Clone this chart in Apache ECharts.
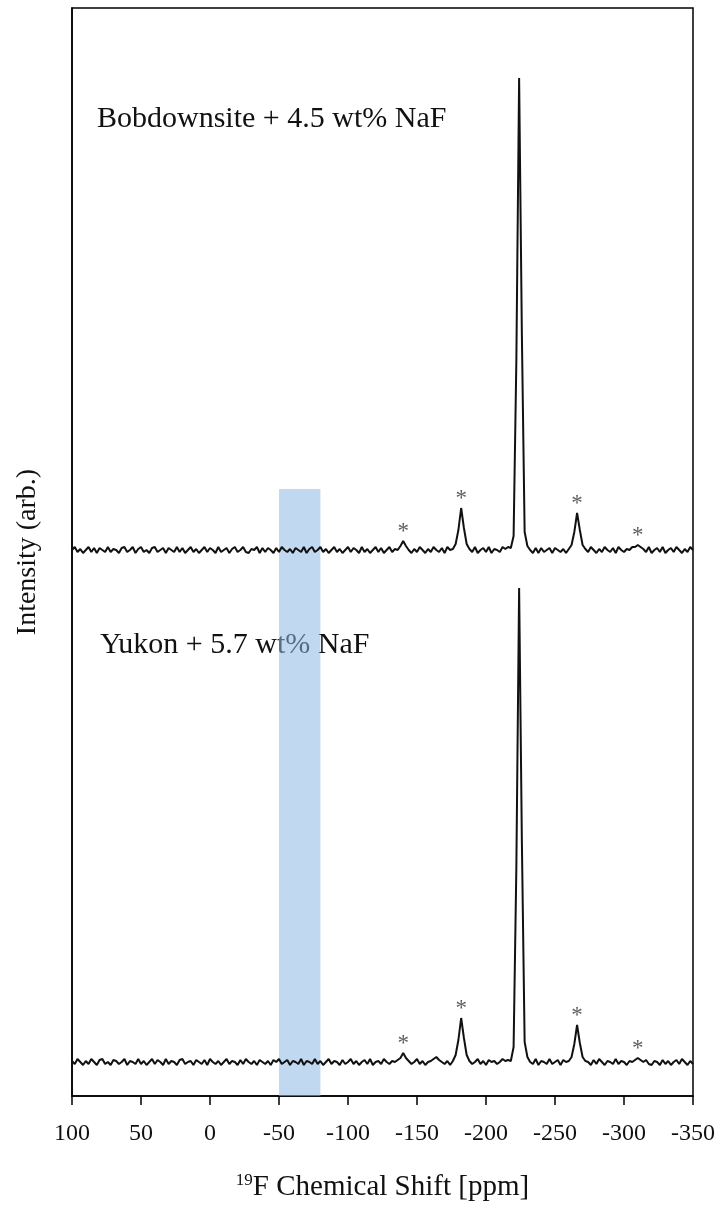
<!DOCTYPE html>
<html>
<head>
<meta charset="utf-8">
<script src="https://cdn.jsdelivr.net/npm/echarts@6/dist/echarts.min.js"></script>
<style>html,body{margin:0;padding:0;background:#fff;}#c{width:720px;height:1212px;}</style>
</head>
<body>
<div id="c"></div>
<script>
// Chemical shift sampling grid (ppm): 100 down to -350, every 2 ppm
const shiftStart = 100, shiftEnd = -350, shiftStep = 2;
const shifts = [];
for (let s = shiftStart; s >= shiftEnd; s -= shiftStep) shifts.push(s);

// Intensities (arb.), relative to each trace's baseline
const bobIntensity = [
  0,3,-2,1,-3,0,3,-2,2,-3,2,0,-2,3,-2,1,0,-3,2,3,
  -2,0,3,-3,1,3,-2,0,-3,2,3,-2,0,2,-3,2,0,-2,3,-2,
  2,-3,0,3,-2,1,-3,0,3,-2,2,0,-3,3,-2,0,2,-3,1,3,
  -2,0,3,-2,-3,1,0,3,-3,2,-2,2,0,-3,2,-2,3,0,-2,1,
  -3,2,0,-2,3,-3,1,3,-2,0,3,-2,1,-3,0,3,-2,1,-3,0,
  3,-2,2,0,-3,3,-2,1,-3,0,3,-2,2,-3,0,3,-2,1,0,4,
  9,4,0,-3,1,-2,3,0,-3,1,-2,3,0,-2,2,-3,3,0,1,6,
  20,42,22,6,1,-2,3,-3,0,2,-2,3,-3,1,0,-2,3,1,3,2,
  14,190,472,215,18,4,0,-3,2,-3,2,-2,0,2,-3,2,0,-2,1,-3,
  1,5,18,37,20,5,1,-2,3,0,-3,1,-2,3,0,-2,2,-3,3,0,
  -2,1,0,3,3,5,3,1,-2,3,-3,0,2,-2,3,-3,0,2,-2,3,
  0,-3,1,-2,3,0
];
const yukonIntensity = [
  1,-2,3,0,-3,1,-2,3,0,-3,2,3,-2,0,-3,2,1,-2,0,3,
  -3,1,0,-2,3,-2,1,-3,0,3,-2,2,0,-3,3,-2,1,0,-3,2,
  3,-2,0,1,-3,2,0,-2,2,-3,3,0,-2,1,-3,0,3,-2,1,0,
  -3,2,-2,3,0,-2,1,-3,2,0,-2,1,-3,2,0,3,-2,0,2,-3,
  1,0,-2,3,-3,1,0,-2,3,-2,1,-3,0,3,-2,1,0,-3,2,-2,
  0,3,-2,1,-3,0,2,-2,3,-3,0,1,-2,3,0,-2,1,0,2,4,
  9,4,1,-2,0,3,-2,1,-3,0,1,3,5,2,0,-2,1,-3,1,7,
  22,44,24,7,1,-2,0,3,-2,1,-3,2,0,1,-2,0,3,1,2,1,
  15,195,474,220,20,5,0,-2,3,-3,1,0,-2,3,-2,0,2,-3,2,0,
  1,5,18,37,19,5,1,0,-3,2,-2,3,0,-3,1,0,-2,3,-2,1,
  0,-3,1,0,2,4,2,0,2,-2,-3,1,0,-3,2,-2,1,-3,0,2,
  -2,3,0,-3,1,-2
];
// Spinning sidebands marked with asterisks (ppm) and their heights
const sidebandShifts = [-140, -182, -266, -310];
const bobSidebandHeights = [9, 42, 37, 5];
const yukonSidebandHeights = [9, 44, 37, 4];
// Highlighted region (ppm)
const bandRange = [-50, -80];
const labels = ['Bobdownsite + 4.5 wt% NaF', 'Yukon + 5.7 wt% NaF'];

// layout (vertical offsets of each stacked trace, in axis units)
const bobOffset = 546, yukonOffset = 34, bandTop = 607, yMax = 1088;

const serif = 'Liberation Serif, Times New Roman, serif';
const pair = (arr, off) => shifts.map((s, i) => [s, arr[i] + off]);
const starData = (h, off) => sidebandShifts.map((s, i) => [s, h[i] + off]);
const starLabel = { show: true, position: 'top', distance: -2, formatter: '*', fontFamily: serif, fontSize: 23, color: '#333' };

const chart = echarts.init(document.getElementById('c'));
chart.setOption({
  backgroundColor: '#fff',
  animation: false,
  grid: { left: 72, right: 27, top: 8, bottom: 116, show: true, borderColor: '#000', borderWidth: 1.5, backgroundColor: 'transparent' },
  xAxis: {
    type: 'value', min: shiftEnd, max: shiftStart, interval: 50, inverse: true,
    axisLine: { show: true, onZero: false, lineStyle: { color: '#000', width: 1.5 } },
    axisTick: { show: true, inside: false, length: 9, lineStyle: { color: '#000', width: 1.5 } },
    axisLabel: { color: '#111', fontFamily: serif, fontSize: 24, margin: 26, formatter: v => String(v) },
    splitLine: { show: false },
    name: '{sup|19}{main|F Chemical Shift [ppm]}',
    nameLocation: 'middle', nameGap: 76,
    nameTextStyle: {
      rich: {
        sup: { fontFamily: serif, fontSize: 17, color: '#111', padding: [0, 0, 14, 0] },
        main: { fontFamily: serif, fontSize: 29, color: '#111' }
      }
    }
  },
  yAxis: {
    type: 'value', min: 0, max: yMax,
    axisLine: { show: true, onZero: false, lineStyle: { color: '#000', width: 1.5 } },
    axisTick: { show: false }, axisLabel: { show: false }, splitLine: { show: false },
    name: 'Intensity (arb.)', nameLocation: 'middle', nameGap: 30, nameRotate: 90,
    nameTextStyle: { fontFamily: serif, fontSize: 28, color: '#111' }
  },
  series: [
    {
      type: 'line', data: pair(bobIntensity, bobOffset), showSymbol: false, symbol: 'none',
      lineStyle: { color: '#111', width: 2 }, z: 2
    },
    {
      type: 'line', data: pair(yukonIntensity, yukonOffset), showSymbol: false, symbol: 'none',
      lineStyle: { color: '#111', width: 2 }, z: 2
    },
    {
      type: 'line', data: [], z: 5, silent: true,
      markArea: {
        silent: true,
        itemStyle: { color: 'rgba(140,185,230,0.55)' },
        data: [[{ coord: [bandRange[0], 0] }, { coord: [bandRange[1], bandTop] }]]
      }
    },
    { type: 'scatter', data: starData(bobSidebandHeights, bobOffset), symbolSize: 0, z: 3, label: starLabel },
    { type: 'scatter', data: starData(yukonSidebandHeights, yukonOffset), symbolSize: 0, z: 3, label: starLabel }
  ],
  graphic: [
    { type: 'text', left: 97, top: 104, style: { text: labels[0], fontFamily: serif, fontSize: 30, fill: '#111' } },
    { type: 'text', left: 100, top: 630, style: { text: labels[1], fontFamily: serif, fontSize: 30, fill: '#111' } }
  ]
});
</script>
</body>
</html>
